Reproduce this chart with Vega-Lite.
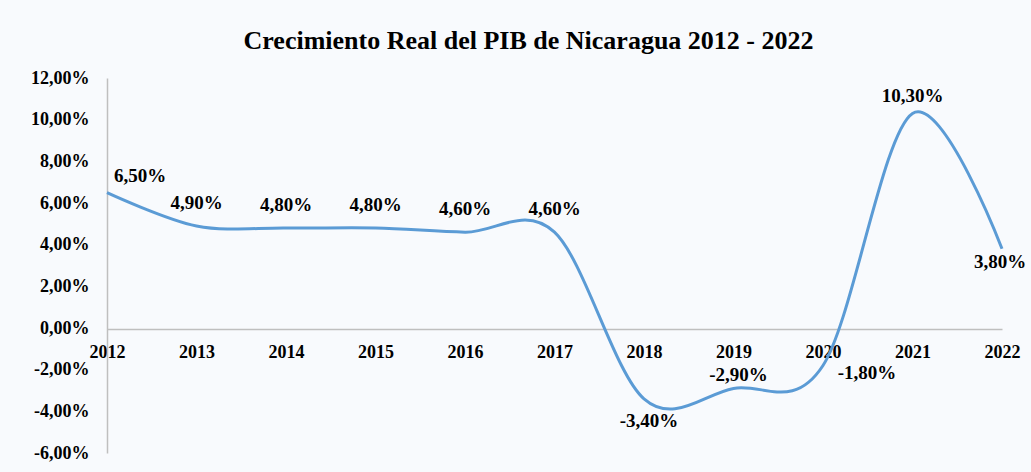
{
  "$schema": "https://vega.github.io/schema/vega-lite/v6.json",
  "autosize": {"type": "none"},
  "width": 895,
  "height": 375,
  "padding": {"left": 107, "top": 78, "right": 29, "bottom": 19},
  "background": "#f8fafd",
  "title": {
    "text": "Crecimiento Real del PIB de Nicaragua 2012 - 2022",
    "font": "Liberation Serif",
    "fontSize": 26,
    "fontWeight": "bold",
    "color": "#000000",
    "anchor": "middle",
    "frame": "group",
    "dx": -26,
    "offset": 15
  },
  "data": {
    "values": [
      {"year": 2012, "value": 6.5},
      {"year": 2013, "value": 4.9},
      {"year": 2014, "value": 4.8},
      {"year": 2015, "value": 4.8},
      {"year": 2016, "value": 4.6},
      {"year": 2017, "value": 4.6},
      {"year": 2018, "value": -3.4},
      {"year": 2019, "value": -2.9},
      {"year": 2020, "value": -1.8},
      {"year": 2021, "value": 10.3},
      {"year": 2022, "value": 3.8}
    ]
  },
  "transform": [
    {"calculate": "replace(replace(format(datum.value, '.2f'), '.', ','), '\u2212', '-') + '%'", "as": "label"}
  ],
  "encoding": {
    "x": {
      "field": "year",
      "type": "quantitative",
      "scale": {"domain": [2012, 2022], "nice": false, "zero": false},
      "axis": {
        "title": null,
        "values": [2012, 2013, 2014, 2015, 2016, 2017, 2018, 2019, 2020, 2021, 2022],
        "format": "d",
        "offset": -124,
        "grid": false,
        "ticks": false,
        "domainColor": "#bfbfbf",
        "domainWidth": 1.5,
        "labelFont": "Liberation Serif",
        "labelFontSize": 18,
        "labelFontWeight": "bold",
        "labelColor": "#000000",
        "labelPadding": 14,
        "labelFlush": false,
        "labelOverlap": false
      }
    },
    "y": {
      "field": "value",
      "type": "quantitative",
      "scale": {"domain": [-6, 12], "nice": false},
      "axis": {
        "title": null,
        "values": [-6, -4, -2, 0, 2, 4, 6, 8, 10, 12],
        "labelExpr": "replace(replace(format(datum.value, '.2f'), '.', ','), '\u2212', '-') + '%'",
        "grid": false,
        "ticks": false,
        "domainColor": "#bfbfbf",
        "domainWidth": 1.5,
        "labelFont": "Liberation Serif",
        "labelFontSize": 18,
        "labelFontWeight": "bold",
        "labelColor": "#000000",
        "labelPadding": 18
      }
    }
  },
  "layer": [
    {
      "mark": {"type": "line", "interpolate": "cardinal", "color": "#5b9bd5", "strokeWidth": 3}
    },
    {
      "transform": [{"filter": "datum.year >= 2013 && datum.year <= 2017"}],
      "mark": {"type": "text", "dy": -23, "font": "Liberation Serif", "fontSize": 19, "fontWeight": "bold", "color": "#000000"},
      "encoding": {"text": {"field": "label"}}
    },
    {
      "transform": [{"filter": "datum.year == 2012"}],
      "mark": {"type": "text", "dx": 33, "dy": -17, "font": "Liberation Serif", "fontSize": 19, "fontWeight": "bold", "color": "#000000"},
      "encoding": {"text": {"field": "label"}}
    },
    {
      "transform": [{"filter": "datum.year == 2018"}],
      "mark": {"type": "text", "dx": 5, "dy": 22, "font": "Liberation Serif", "fontSize": 19, "fontWeight": "bold", "color": "#000000"},
      "encoding": {"text": {"field": "label"}}
    },
    {
      "transform": [{"filter": "datum.year == 2019"}],
      "mark": {"type": "text", "dx": 5, "dy": -13, "font": "Liberation Serif", "fontSize": 19, "fontWeight": "bold", "color": "#000000"},
      "encoding": {"text": {"field": "label"}}
    },
    {
      "transform": [{"filter": "datum.year == 2020"}],
      "mark": {"type": "text", "dx": 44, "dy": 7, "font": "Liberation Serif", "fontSize": 19, "fontWeight": "bold", "color": "#000000"},
      "encoding": {"text": {"field": "label"}}
    },
    {
      "transform": [{"filter": "datum.year == 2021"}],
      "mark": {"type": "text", "dy": -17, "font": "Liberation Serif", "fontSize": 19, "fontWeight": "bold", "color": "#000000"},
      "encoding": {"text": {"field": "label"}}
    },
    {
      "transform": [{"filter": "datum.year == 2022"}],
      "mark": {"type": "text", "dx": -2, "dy": 13, "font": "Liberation Serif", "fontSize": 19, "fontWeight": "bold", "color": "#000000"},
      "encoding": {"text": {"field": "label"}}
    }
  ],
  "config": {
    "view": {"stroke": null}
  }
}
